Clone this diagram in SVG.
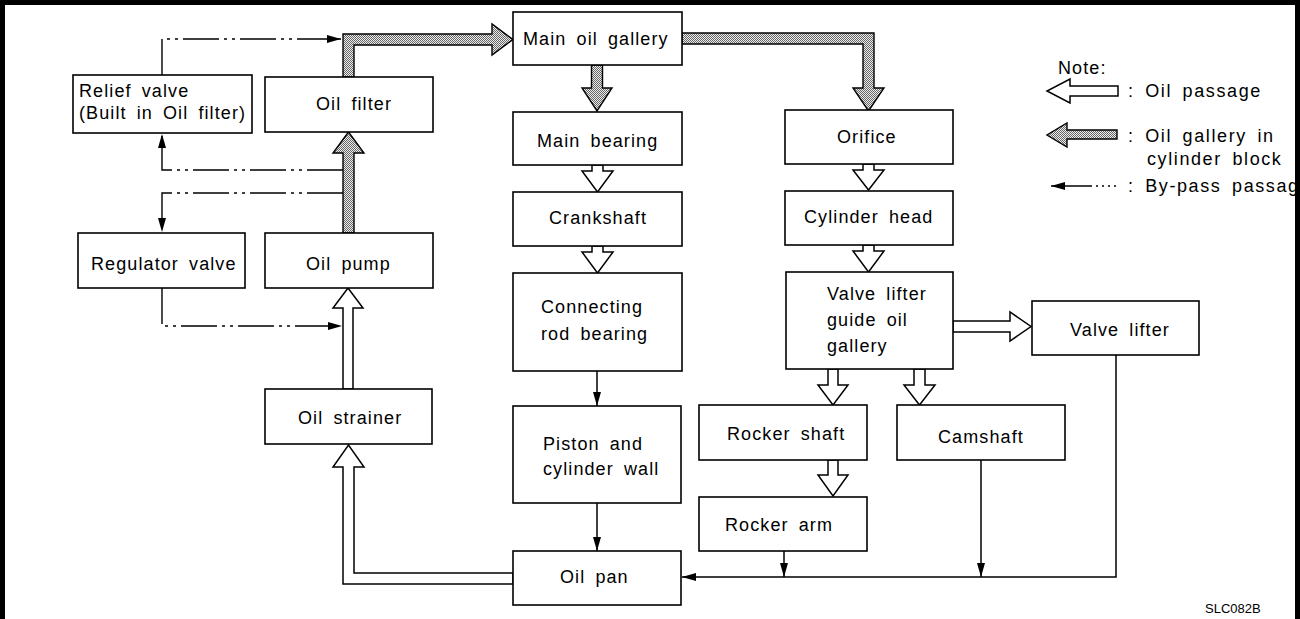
<svg xmlns="http://www.w3.org/2000/svg" width="1300" height="619" viewBox="0 0 1300 619">
<defs>
<style>
.box{fill:#fff;stroke:#000;stroke-width:1.6}
.t{font-family:"Liberation Sans",Arial,sans-serif;font-size:18px;letter-spacing:1.1px;word-spacing:4px;fill:#000}
.lg{letter-spacing:1.6px}
.hol{fill:#fff;stroke:#000;stroke-width:1.5;stroke-linejoin:miter}
.gal{fill:url(#stip);stroke:#000;stroke-width:1.4;stroke-linejoin:miter}
.ln{fill:none;stroke:#000;stroke-width:1.5}
.bp{fill:none;stroke:#000;stroke-width:1.4;stroke-dasharray:36 5 3 5 3 5}
</style>
<pattern id="stip" width="2" height="2" patternUnits="userSpaceOnUse">
<rect width="2" height="2" fill="#ececec"/>
<rect width="1" height="1" fill="#666"/>
<rect x="1" y="1" width="1" height="1" fill="#666"/>
</pattern>
<marker id="ah" markerUnits="userSpaceOnUse" markerWidth="14" markerHeight="8" refX="14" refY="4" orient="auto">
<path d="M0,0 L14,4 L0,8 Z" fill="#000"/>
</marker>
<clipPath id="clipR"><rect x="0" y="0" width="1295" height="619"/></clipPath>
</defs>
<rect x="0" y="0" width="1300" height="619" fill="#fff"/>

<g id="connectors">
<polygon class="gal" points="343,233 343,153 333,153 348.5,132 364,153 354,153 354,233"/>
<polygon class="gal" points="343,77 343,34 492,34 492,24 513,39.5 492,55 492,45 354,45 354,77"/>
<polygon class="gal" points="591.5,65 591.5,88 582,88 597,111 612,88 602.5,88 602.5,65"/>
<polygon class="gal" points="682,33 874,33 874,88 884,88 868.5,111 853,88 863,88 863,44 682,44"/>
<polygon class="hol" points="592,165 592,171 582,171 597.5,192 613,171 603,171 603,165"/>
<polygon class="hol" points="592,246 592,252 582,252 597.5,273 613,252 603,252 603,246"/>
<polygon class="hol" points="863,164 863,170 853,170 868.5,190 884,170 874,170 874,164"/>
<polygon class="hol" points="863,245 863,251 853,251 868.5,272 884,251 874,251 874,245"/>
<polygon class="hol" points="828,369 828,385 818,385 833,405 848,385 838,385 838,369"/>
<polygon class="hol" points="914,369 914,385 904,385 919.5,405 935,385 925,385 925,369"/>
<polygon class="hol" points="828,460 828,475 818,475 833,496 848,475 838,475 838,460"/>
<polygon class="hol" points="953,321 1010,321 1010,312 1031,326.5 1010,341 1010,332 953,332"/>
<polygon class="hol" points="343,389 343,308 333,308 348,288 363,308 353,308 353,389"/>
<polygon class="hol" points="513,584 343,584 343,467 333,467 348.5,445 364,467 354,467 354,573 513,573"/>
<line class="ln" x1="597" y1="371" x2="597" y2="406" marker-end="url(#ah)"/>
<line class="ln" x1="597" y1="503" x2="597" y2="551" marker-end="url(#ah)"/>
<line class="ln" x1="784" y1="551" x2="784" y2="577" marker-end="url(#ah)"/>
<line class="ln" x1="981" y1="460" x2="981" y2="577" marker-end="url(#ah)"/>
<polyline class="ln" points="1116,355 1116,577 682,577" marker-end="url(#ah)"/>
<polyline class="bp" points="162,75 162,39 341,39" marker-end="url(#ah)"/>
<polyline class="bp" points="343,170 162,170 162,134" marker-end="url(#ah)"/>
<polyline class="bp" points="343,193 162,193 162,232" marker-end="url(#ah)"/>
<polyline class="bp" points="162,288 162,326 342,326" marker-end="url(#ah)"/>
</g>

<g id="main-oil-gallery"><rect class="box" x="513" y="12" width="169" height="53"/><text class="t" x="523" y="45">Main oil gallery</text></g>
<g id="relief-valve"><rect class="box" x="73" y="75" width="179" height="58"/><text class="t" x="79" y="97">Relief valve</text><text class="t" x="79" y="119">(Built in Oil filter)</text></g>
<g id="oil-filter"><rect class="box" x="265" y="77" width="168" height="55"/><text class="t" x="316" y="110">Oil filter</text></g>
<g id="main-bearing"><rect class="box" x="513" y="112" width="169" height="53"/><text class="t" x="537" y="147">Main bearing</text></g>
<g id="orifice"><rect class="box" x="785" y="110" width="168" height="54"/><text class="t" x="837" y="143">Orifice</text></g>
<g id="crankshaft"><rect class="box" x="513" y="192" width="169" height="54"/><text class="t" x="549" y="224">Crankshaft</text></g>
<g id="cylinder-head"><rect class="box" x="785" y="191" width="168" height="54"/><text class="t" x="804" y="223">Cylinder head</text></g>
<g id="regulator-valve"><rect class="box" x="78" y="233" width="167" height="55"/><text class="t" x="91" y="270">Regulator valve</text></g>
<g id="oil-pump"><rect class="box" x="265" y="233" width="168" height="55"/><text class="t" x="306" y="270">Oil pump</text></g>
<g id="connecting-rod-bearing"><rect class="box" x="513" y="273" width="169" height="98"/><text class="t" x="541" y="313">Connecting</text><text class="t" x="541" y="340">rod bearing</text></g>
<g id="valve-lifter-guide-oil-gallery"><rect class="box" x="786" y="272" width="167" height="97"/><text class="t" x="827" y="300">Valve lifter</text><text class="t" x="827" y="326">guide oil</text><text class="t" x="827" y="352">gallery</text></g>
<g id="valve-lifter"><rect class="box" x="1032" y="301" width="167" height="54"/><text class="t" x="1070" y="336">Valve lifter</text></g>
<g id="oil-strainer"><rect class="box" x="265" y="389" width="167" height="55"/><text class="t" x="298" y="424">Oil strainer</text></g>
<g id="piston-cylinder-wall"><rect class="box" x="513" y="406" width="168" height="97"/><text class="t" x="543" y="450">Piston and</text><text class="t" x="543" y="475">cylinder wall</text></g>
<g id="rocker-shaft"><rect class="box" x="699" y="405" width="168" height="55"/><text class="t" x="727" y="440">Rocker shaft</text></g>
<g id="camshaft"><rect class="box" x="897" y="405" width="168" height="55"/><text class="t" x="938" y="443">Camshaft</text></g>
<g id="rocker-arm"><rect class="box" x="699" y="497" width="168" height="54"/><text class="t" x="725" y="531">Rocker arm</text></g>
<g id="oil-pan"><rect class="box" x="513" y="551" width="168" height="54"/><text class="t" x="560" y="583">Oil pan</text></g>

<g id="legend" clip-path="url(#clipR)">
<text class="t" x="1058" y="74">Note:</text>
<polygon class="hol" points="1118,86 1070,86 1070,79 1047,91 1070,103 1070,96 1118,96"/>
<text class="t lg" x="1128" y="97">: Oil passage</text>
<polygon class="gal" points="1117,130 1067,130 1067,123 1047,135 1067,147 1067,139 1117,139"/>
<text class="t lg" x="1128" y="142">: Oil gallery in</text>
<text class="t lg" x="1147" y="165">cylinder block</text>
<line class="ln" x1="1092" y1="186" x2="1051" y2="186" marker-end="url(#ah)"/>
<line x1="1096" y1="186" x2="1116" y2="186" stroke="#000" stroke-width="1.3" stroke-dasharray="2 4"/>
<text class="t lg" x="1128" y="192">: By-pass passage</text>
</g>

<text x="1205" y="613" font-family="Liberation Sans, Arial, sans-serif" font-size="13" fill="#000">SLC082B</text>

<g id="frame" fill="#000">
<rect x="0" y="0" width="1300" height="5"/>
<rect x="0" y="0" width="5" height="619"/>
<rect x="1295" y="0" width="5" height="619"/>
</g>
</svg>
